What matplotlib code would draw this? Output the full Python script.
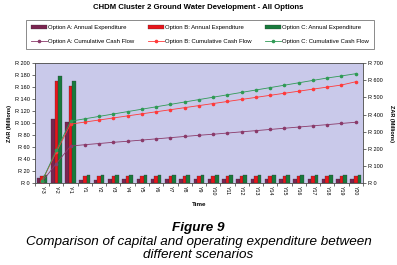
import numpy as np
import matplotlib
matplotlib.use('Agg')
import matplotlib.pyplot as plt

plt.rcParams['font.family'] = ['Liberation Sans', 'DejaVu Sans']

years = ['Y-3', 'Y-2', 'Y-1'] + ['Y%d' % i for i in range(1, 21)]

# annual expenditure (R millions, left axis)
exp_a = [8, 106, 102, 6, 6, 7, 7, 7, 7, 7, 7, 7, 7, 7, 7, 7, 7, 7, 7, 7, 7, 7, 7]
exp_b = [12, 170, 162, 12, 12, 12, 12, 12, 12, 12, 12, 12, 12, 12, 12, 12, 12, 12, 12, 12, 12, 12, 12]
exp_c = [13, 178, 170, 14, 14, 14, 14, 14, 14, 14, 14, 14, 14, 14, 14, 14, 14, 14, 14, 14, 14, 14, 14]

# cumulative cash flow (R millions, right axis)
cum_a = [8, 114, 216, 224, 231, 238, 244, 251, 258, 265, 272, 279, 285, 292, 299, 306, 313, 320, 327, 334, 341, 348, 355]
cum_b = [12, 182, 344, 356, 368, 380, 392, 404, 416, 428, 440, 452, 464, 476, 488, 500, 512, 524, 536, 548, 560, 572, 591]
cum_c = [13, 191, 361, 375, 389, 403, 417, 431, 445, 459, 473, 487, 501, 515, 529, 543, 557, 571, 585, 599, 613, 625, 638]

col_a, col_b, col_c = '#7a2450', '#e8151b', '#187a3c'
lcol_a, lcol_b, lcol_c = '#8a3a6a', '#ff3a3a', '#2f9a55'

fig = plt.figure(figsize=(3.97, 2.65), dpi=100)
ax = fig.add_axes([0.088, 0.309, 0.826, 0.453])
ax.set_facecolor('#c9c9ea')

x = np.arange(len(years))
w = 0.25
ba = ax.bar(x - w, exp_a, w, color=col_a, edgecolor='#333333', linewidth=0.2, zorder=2)
bb = ax.bar(x, exp_b, w, color=col_b, edgecolor='#333333', linewidth=0.2, zorder=2)
bc = ax.bar(x + w, exp_c, w, color=col_c, edgecolor='#333333', linewidth=0.2, zorder=2)

ax.set_xlim(-0.5, len(years) - 0.5)
ax.set_ylim(0, 200)
ax.set_yticks(range(0, 201, 20))
ax.set_yticklabels(['R %d' % v for v in range(0, 201, 20)], fontsize=4)
ax.set_xticks(x)
ax.set_xticklabels(years, fontsize=3.8, rotation=270)
ax.tick_params(axis='x', length=0, pad=2)
ax.set_xticks(np.arange(-0.5, len(years), 1), minor=True)
ax.tick_params(axis='x', which='minor', length=2, width=0.4)
ax.tick_params(axis='y', length=2, width=0.4, pad=1.5)
ax.set_ylabel('ZAR (Millions)', fontsize=4, fontweight='bold', labelpad=2)
ax.set_xlabel('Time', fontsize=4.5, fontweight='bold', labelpad=5)
for s in ax.spines.values():
    s.set_linewidth(0.5)
    s.set_color('#555555')

ax2 = ax.twinx()
la, = ax2.plot(x, cum_a, color=lcol_a, lw=0.6, marker='o', ms=1.6, zorder=3)
lb, = ax2.plot(x, cum_b, color=lcol_b, lw=0.6, marker='o', ms=1.6, zorder=3)
lc, = ax2.plot(x, cum_c, color=lcol_c, lw=0.6, marker='o', ms=1.6, zorder=3)
ax2.set_ylim(0, 700)
ax2.set_yticks(range(0, 701, 100))
ax2.set_yticklabels(['R %d' % v for v in range(0, 701, 100)], fontsize=4)
ax2.tick_params(axis='y', length=2, width=0.4, pad=1.5)
ax2.set_ylabel('ZAR (Millions)', fontsize=4, fontweight='bold', rotation=270, labelpad=8)
for s in ax2.spines.values():
    s.set_linewidth(0.5)
    s.set_color('#555555')

fig.text(0.5, 0.973, 'CHDM Cluster 2 Ground Water Development - All Options',
         ha='center', va='center', fontsize=5.6, fontweight='bold')

handles = [ba, la, bb, lb, bc, lc]
labels = ['Option A: Annual Expenditure', 'Option A: Cumulative Cash Flow',
          'Option B: Annual Expenditure', 'Option B: Cumulative Cash Flow',
          'Option C: Annual Expenditure', 'Option C: Cumulative Cash Flow']
leg = fig.legend(handles, labels, ncol=3, loc='center', mode='expand',
                 bbox_to_anchor=(0.058, 0.808, 0.892, 0.124), fontsize=4.3,
                 frameon=True, fancybox=False, edgecolor='#555555',
                 handlelength=2.6, handleheight=0.5, labelspacing=1.5,
                 handletextpad=0.2, borderpad=0.85)
leg.get_frame().set_linewidth(0.6)

fig.text(0.5, 0.138, 'Figure 9', ha='center', va='center', fontsize=9.7,
         fontweight='bold', style='italic')
fig.text(0.5, 0.085, 'Comparison of capital and operating expenditure between',
         ha='center', va='center', fontsize=9.7, style='italic')
fig.text(0.5, 0.038, 'different scenarios', ha='center', va='center',
         fontsize=9.7, style='italic')

fig.savefig('out.png', dpi=100)
